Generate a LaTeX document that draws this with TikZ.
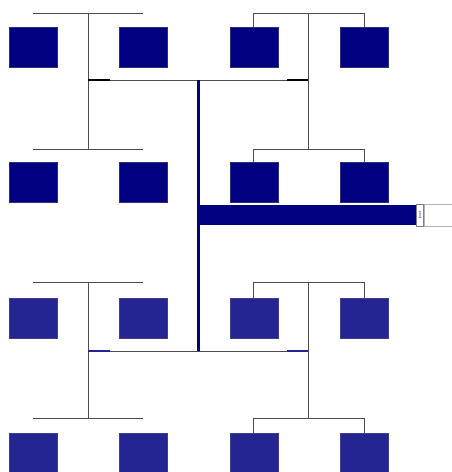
\documentclass[tikz,border=0pt]{standalone}
\usetikzlibrary{positioning}
\definecolor{navy}{RGB}{0,0,128}
\definecolor{navylt}{RGB}{36,36,146}
\tikzset{
  unit/.style  ={rectangle, draw=navy!65!gray, fill=navy, minimum width=48pt, minimum height=40pt, inner sep=0pt},
  unitlt/.style={unit, draw=navylt!70!gray, fill=navylt},
  wire/.style  ={draw=black!70, line width=0.8pt},
  stub/.style  ={draw=black, line width=1.4pt},
  stublt/.style={draw=navylt, line width=1.4pt},
  trunk/.style ={draw=navy, line width=3pt},
  bar/.style   ={rectangle, fill=navy, minimum width=218pt, minimum height=20pt, inner sep=0pt, anchor=west},
  tag/.style   ={rectangle, draw=black!50, fill=white, minimum width=7pt, minimum height=22pt, inner sep=0pt, font=\fontsize{11}{11}\selectfont, text=blue!35!gray},
  field/.style ={rectangle, draw=black!30, minimum width=40pt, minimum height=22pt, inner sep=0pt},
}
\begin{document}
\begin{tikzpicture}[x=1pt, y=-1pt, node distance=95pt and 62pt]
\useasboundingbox (0,0) rectangle (451,472);
% the sixteen units
\node[unit] (a1) at (33,47) {};
\node[unit, right=of a1] (a2) {};
\node[unit, right=of a2] (a3) {};
\node[unit, right=of a3] (a4) {};
\node[unit, below=of a1] (b1) {};
\node[unit, below=of a2] (b2) {};
\node[unit, below=of a3] (b3) {};
\node[unit, below=of a4] (b4) {};
\node[unitlt, below=of b1] (c1) {};
\node[unitlt, below=of b2] (c2) {};
\node[unitlt, below=of b3] (c3) {};
\node[unitlt, below=of b4] (c4) {};
\node[unitlt, below=of c1] (d1) {};
\node[unitlt, below=of c2] (d2) {};
\node[unitlt, below=of c3] (d3) {};
\node[unitlt, below=of c4] (d4) {};
% spines and buses
\coordinate (lt) at (88,13);  \coordinate (lb) at (88,149);
\coordinate (rt) at (308,13); \coordinate (rb) at (308,149);
\coordinate (lt2) at (88,282);  \coordinate (lb2) at (88,418);
\coordinate (rt2) at (308,282); \coordinate (rb2) at (308,418);
\coordinate (bus1l) at (88,80);  \coordinate (bus1r) at (308,80);
\coordinate (bus2l) at (88,351); \coordinate (bus2r) at (308,351);
\coordinate (tt) at (198,80); \coordinate (tb) at (198,351);
% upper half
\draw[wire] (a1.north |- lt) -- (a2.north |- lt);
\draw[wire] (lt) -- (lb);
\draw[wire] (b1.north |- lb) -- (b2.north |- lb);
\draw[wire] (a3.north) -- (a3.north |- rt) -- (a4.north |- rt) -- (a4.north);
\draw[wire] (rt) -- (rb);
\draw[wire] (b3.north) -- (b3.north |- rb) -- (b4.north |- rb) -- (b4.north);
\draw[wire] (bus1l) -- (bus1r);
\draw[stub] (bus1l) -- ++(22,0);
\draw[stub] (bus1r) -- ++(-21,0);
% lower half
\draw[wire] (c1.north |- lt2) -- (c2.north |- lt2);
\draw[wire] (lt2) -- (lb2);
\draw[wire] (d1.north |- lb2) -- (d2.north |- lb2);
\draw[wire] (c3.north) -- (c3.north |- rt2) -- (c4.north |- rt2) -- (c4.north);
\draw[wire] (rt2) -- (rb2);
\draw[wire] (d3.north) -- (d3.north |- rb2) -- (d4.north |- rb2) -- (d4.north);
\draw[wire] (bus2l) -- (bus2r);
\draw[stublt] (bus2l) -- ++(22,0);
\draw[stublt] (bus2r) -- ++(-21,0);
% trunk and output
\draw[trunk] (tt) -- (tb);
\node[bar] (out) at (198,215) {};
\node[tag, right=0pt of out] (one) {1};
\node[field, right=0pt of one] (fld) {};
\end{tikzpicture}
\end{document}
